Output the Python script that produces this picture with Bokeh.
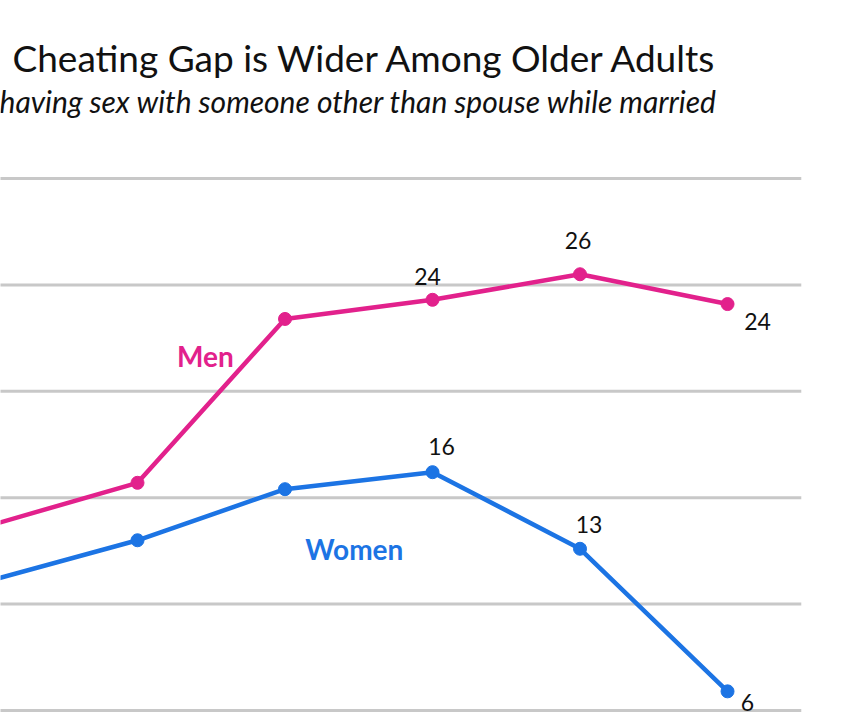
from bokeh.plotting import figure
from bokeh.models import ColumnDataSource
from bokeh.core.properties import value
from bokeh.embed import file_html
from bokeh.resources import INLINE

# ---- data ----
age_groups = ["30-39", "40-49", "50-59", "60-69", "70-79", "80+"]
men = [13.7, 15.7, 23.4, 24.3, 25.5, 24.1]
women = [11.1, 13.0, 15.4, 16.2, 12.6, 5.9]
men_labeled = [False, False, False, True, True, True]
women_labeled = [False, False, False, True, True, True]
grid_values = [5, 10, 15, 20, 25, 30]
title_text = "Cheating Gap is Wider Among Older Adults"
subtitle_text = "having sex with someone other than spouse while married"

MEN_C = "#E2218C"
WOMEN_C = "#1C74E4"
FONT = "Lato"

# category positions (30-39 is category index 1 in the full 18-29..80+ list)
xs = [i + 1 for i in range(len(age_groups))]

p = figure(width=853, height=720, output_backend="svg", toolbar_location=None,
           x_range=(1.0712, 6.854), y_range=(4.53, 38.365),
           x_axis_location=None, y_axis_location=None,
           min_border=0, min_border_left=0, min_border_right=0,
           min_border_top=0, min_border_bottom=0)
p.outline_line_color = None
p.xgrid.visible = False
p.ygrid.visible = False
p.background_fill_color = "white"
p.border_fill_color = "white"

# horizontal gridlines spanning the category plot area (-0.5 .. last+0.5)
n_all = xs[-1] + 1
p.segment(x0=[-0.5] * len(grid_values), x1=[n_all - 0.5] * len(grid_values),
          y0=grid_values, y1=grid_values, line_color="#C8C8C8", line_width=3)

for vals, col in ((men, MEN_C), (women, WOMEN_C)):
    src = ColumnDataSource(dict(x=xs, y=vals))
    p.line("x", "y", source=src, line_color=col, line_width=4.5)
    p.scatter("x", "y", source=src, size=13, color=col)

# data labels
men_offsets = {3: (-5, -23), 4: (-2, -34), 5: (30, 17)}
women_offsets = {3: (9, -26), 4: (9, -24), 5: (20, 11)}
for vals, flags, offs in ((men, men_labeled, men_offsets), (women, women_labeled, women_offsets)):
    for i, (v, f) in enumerate(zip(vals, flags)):
        if f:
            dx, dy = offs[i]
            p.text(x=[xs[i]], y=[v], text=[f"{round(v)}"], x_offset=dx, y_offset=dy,
                   text_align="center", text_baseline="middle",
                   text_font=value(FONT), text_font_size="23px", text_color="#111111")

# series name labels
p.text(x=[2.46], y=[21.68], text=["Men"], text_align="center", text_baseline="middle",
       text_font=value(FONT), text_font_size="28px", text_font_style="bold", text_color=MEN_C)
p.text(x=[3.47], y=[12.57], text=["Women"], text_align="center", text_baseline="middle",
       text_font=value(FONT), text_font_size="28px", text_font_style="bold", text_color=WOMEN_C)

# title and subtitle
p.text(x=[1.0712], y=[35.69], text=[title_text], x_offset=12, text_align="left",
       text_baseline="middle", text_font=value(FONT), text_font_size="37px", text_color="#111111")
p.text(x=[1.0712], y=[33.62], text=[subtitle_text], x_offset=-1, text_align="left",
       text_baseline="middle", text_font=value(FONT), text_font_size="30px",
       text_font_style="italic", text_color="#111111")

open("out.html", "w").write(file_html(p, INLINE))
